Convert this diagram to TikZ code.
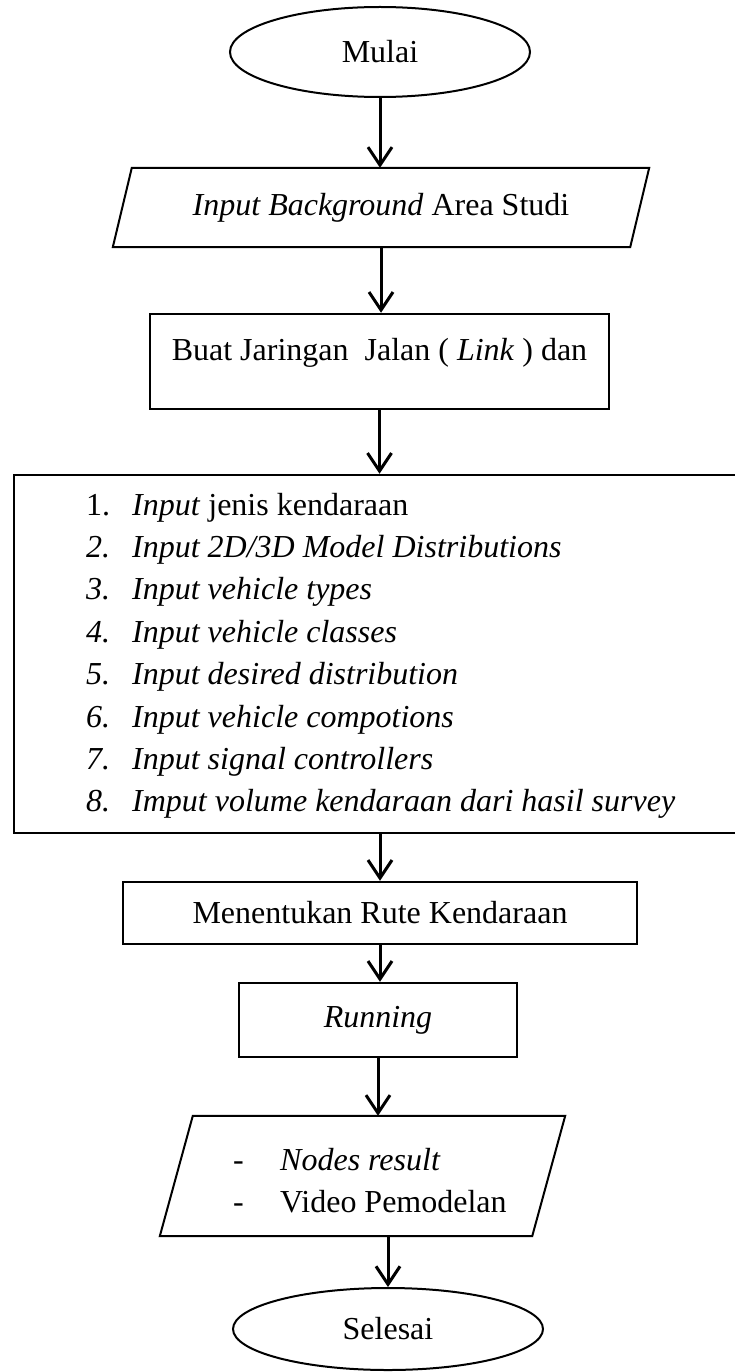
\documentclass[tikz,border=0pt]{standalone}
\usepackage{fontspec}
\setmainfont{Liberation Serif}
\usetikzlibrary{shapes.geometric,arrows.meta}

\begin{document}
\begin{tikzpicture}[x=1pt,y=-1pt,>={Straight Barb[length=18pt,width=24pt]},
  font=\fontsize{32}{42.4}\selectfont,
  term/.style={draw,ellipse,line width=2pt,inner sep=0pt},
  proc/.style={draw,rectangle,line width=2.5pt,inner sep=0pt},
  io/.style={rectangle,inner sep=0pt},
  slant/.style={line width=2pt,line join=miter},
  flow/.style={->,line width=3pt}]
  \useasboundingbox (0,0) rectangle (734,1372);
  % terminals and blocks, top to bottom
  \node[term,minimum width=300pt,minimum height=90pt] (mulai) at (380,52) {Mulai};
  \node[io,minimum width=517pt,minimum height=79pt] (inp) at (381,207.5)
        {\textit{Input Background} Area Studi};
  \draw[slant] ([xshift=9.5pt]inp.north west) -- ([xshift=9.5pt]inp.north east)
    -- ([xshift=-9.5pt]inp.south east) -- ([xshift=-9.5pt]inp.south west) -- cycle;
  \node[proc,minimum width=459pt,minimum height=95pt,text height=22pt,text depth=25pt]
        (jalan) at (379.5,361.5) {Buat Jaringan~~Jalan ( \textit{Link} ) dan};
  \node[proc,minimum width=726pt,minimum height=358pt] (data) at (377,654) {};
  \node[anchor=base west,inner sep=0pt] (langkah) at (86,515) {\begin{tabular}[t]{@{}p{46pt}@{}l@{}}
    1. & \textit{Input} jenis kendaraan\\
    \textit{2.} & \textit{Input 2D/3D Model Distributions}\\
    \textit{3.} & \textit{Input vehicle types}\\
    \textit{4.} & \textit{Input vehicle classes}\\
    \textit{5.} & \textit{Input desired distribution}\\
    \textit{6.} & \textit{Input vehicle compotions}\\
    \textit{7.} & \textit{Input signal controllers}\\
    \textit{8.} & \textit{Imput volume kendaraan dari hasil survey}
  \end{tabular}};
  \node[proc,minimum width=514pt,minimum height=62pt] (rute) at (380,913)
        {Menentukan Rute Kendaraan};
  \node[proc,minimum width=278pt,minimum height=74pt] (run) at (378,1020) {\textit{Running}};
  \node[io,minimum width=372pt,minimum height=120pt] (hasil) at (362.5,1176) {};
  \draw[slant] ([xshift=16.5pt]hasil.north west) -- ([xshift=16.5pt]hasil.north east)
    -- ([xshift=-16.5pt]hasil.south east) -- ([xshift=-16.5pt]hasil.south west) -- cycle;
  \node[anchor=base west,inner sep=0pt] (keluaran) at (233,1170) {\begin{tabular}[t]{@{}p{47pt}@{}l@{}}
    - & \textit{Nodes result}\\
    - & Video Pemodelan
  \end{tabular}};
  \node[term,minimum width=310pt,minimum height=82pt] (selesai) at (388,1329) {Selesai};
  % arrows
  \draw[flow] (mulai.south) -- (mulai.south |- inp.north);
  \draw[flow] (inp.south) -- (inp.south |- jalan.north);
  \draw[flow] (jalan.south) -- (jalan.south |- data.north);
  \draw[flow] (rute.north |- data.south) -- (rute.north);
  \draw[flow] (rute.south) -- (rute.south |- run.north);
  \draw[flow] (run.south) -- (run.south |- hasil.north);
  \draw[flow] (selesai.north |- hasil.south) -- (selesai.north);
\end{tikzpicture}
\end{document}
